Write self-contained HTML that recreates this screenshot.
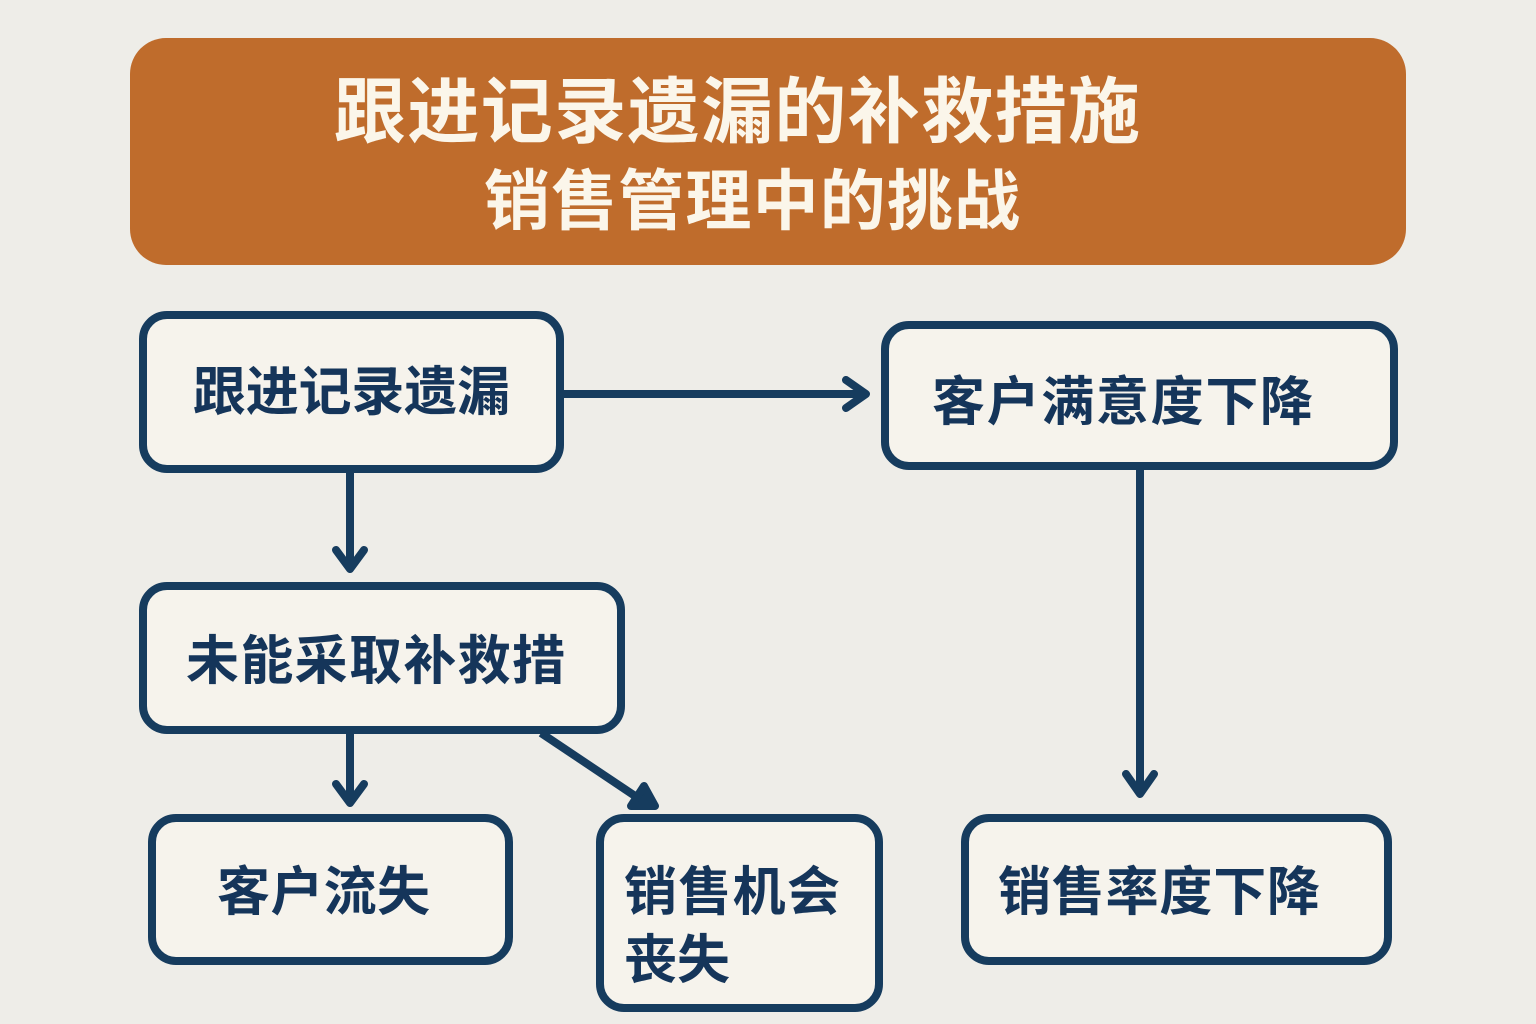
<!DOCTYPE html>
<html lang="zh">
<head>
<meta charset="utf-8">
<style>
html,body{margin:0;padding:0;background:#EEEDE8;}
svg{display:block;}
text{font-family:"Liberation Sans","Noto Sans CJK SC",sans-serif;font-weight:700;}
.n{font-size:53px;fill:#15355A;}
.t{fill:#FBF6EA;}
.b{fill:#F6F3EC;stroke:#163C5E;stroke-width:8;}
.c{fill:none;stroke:#163C5E;stroke-width:8;stroke-linecap:round;stroke-linejoin:round;}
</style>
</head>
<body>
<svg width="1536" height="1024" viewBox="0 0 1536 1024" xmlns="http://www.w3.org/2000/svg">
<rect width="1536" height="1024" fill="#EEEDE8"/>
<rect x="130" y="38" width="1276" height="227" rx="36" fill="#BF6C2C"/>
<text class="t" x="334" y="137" font-size="72" textLength="806" lengthAdjust="spacing">跟进记录遗漏的补救措施</text>
<text class="t" x="484" y="224" font-size="66" textLength="536" lengthAdjust="spacing">销售管理中的挑战</text>

<rect class="b" x="143" y="315" width="417" height="154" rx="24"/>
<rect class="b" x="885" y="325" width="509" height="141" rx="24"/>
<rect class="b" x="143" y="586" width="478" height="144" rx="24"/>
<rect class="b" x="152" y="818" width="357" height="143" rx="24"/>
<rect class="b" x="600" y="818" width="279" height="190" rx="24"/>
<rect class="b" x="965" y="818" width="423" height="143" rx="24"/>

<path class="c" d="M564 394H865M846 380L866 394L846 408"/>
<path class="c" d="M350 473V568M336 550L350 569L364 550"/>
<path class="c" d="M350 734V802M336 784L350 803L364 784"/>
<path d="M541 733L650 806" fill="none" stroke="#163C5E" stroke-width="8"/>
<path class="c" d="M644 786L655 806L631 806Z" fill="#163C5E" style="fill:#163C5E"/>
<path class="c" d="M1140 470V793M1126 774L1140 794L1154 774"/>

<text class="n" x="193" y="410" textLength="317" lengthAdjust="spacing">跟进记录遗漏</text>
<text class="n" x="932" y="420" textLength="381" lengthAdjust="spacing">客户满意度下降</text>
<text class="n" x="186" y="679" textLength="379" lengthAdjust="spacing">未能采取补救措</text>
<text class="n" x="217" y="910" textLength="213" lengthAdjust="spacing">客户流失</text>
<text class="n" x="624" y="910" textLength="216" lengthAdjust="spacing">销售机会</text>
<text class="n" x="624" y="978" textLength="106" lengthAdjust="spacing">丧失</text>
<text class="n" x="998" y="910" textLength="322" lengthAdjust="spacing">销售率度下降</text>
</svg>
</body>
</html>
